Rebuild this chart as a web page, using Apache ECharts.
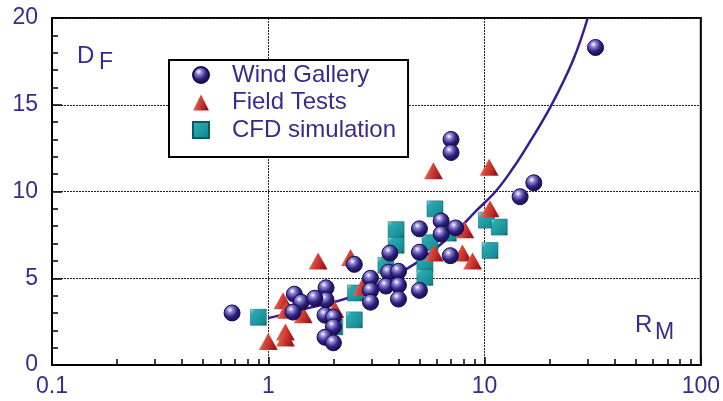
<!DOCTYPE html>
<html><head><meta charset="utf-8">
<script src="https://cdn.jsdelivr.net/npm/echarts@6/dist/echarts.min.js"></script>
<style>html,body{margin:0;padding:0;background:#fff}#c{width:723px;height:401px}</style>
</head><body><div id="c"></div>
<script>
const xTickLabels = [0.1, 1, 10, 100];
const xMinorTicks = [0.2,0.3,0.4,0.5,0.6,0.7,0.8,0.9,2,3,4,5,6,7,8,9,20,30,40,50,60,70,80,90];
const yTickLabels = [0, 5, 10, 15, 20];
const seriesNames = ['Wind Gallery', 'Field Tests', 'CFD simulation'];

const windGallery = [
  [0.68,3.0],[32.6,18.3],[7.0,13.0],[7.0,12.25],[14.6,9.7],[16.9,10.5],
  [5.0,7.85],[6.3,8.3],[6.3,7.55],[7.35,7.9],[5.0,6.5],[6.95,6.3],
  [3.65,6.45],[3.6,5.35],[4.0,5.4],[3.5,4.55],[4.0,4.6],[4.0,3.8],[5.0,4.3],
  [2.5,5.8],[2.97,5.0],[2.97,4.3],[2.97,3.62],
  [1.85,4.45],[1.85,3.75],[1.83,2.87],[2.0,2.75],[2.0,2.2],[1.83,1.6],[2.0,1.28],
  [1.32,4.08],[1.42,3.62],[1.3,3.05],[1.64,3.85]
];
const fieldTests = [
  [1.0,1.35],[1.2,1.9],[1.2,1.55],[1.17,3.7],[1.21,3.15],[1.45,2.9],[1.7,6.0],
  [2.4,6.2],[2.72,4.5],[2.03,3.2],[5.8,11.2],[10.5,11.4],[10.6,9.0],[8.1,7.8],
  [5.85,6.45],[7.9,6.45],[8.8,6.0]
];
const cfdSimulation = [
  [0.9,2.75],[2.53,4.15],[2.5,2.6],[2.03,2.2],[3.9,7.8],[3.9,6.9],[3.5,5.75],
  [5.9,9.0],[5.3,5.85],[5.3,5.05],[5.6,7.05],[6.8,7.6],[10.2,8.35],[11.7,7.95],[10.6,6.6]
];
const fitCurve = [
  [1.0,2.7],[1.53,3.28],[2.45,3.97],[4.72,5.8],[7.44,7.76],[9.19,8.91],[11.35,10.06],
  [13.6,11.38],[15.6,12.53],[20.3,14.94],[25.6,17.53],[30.0,20.0]
];

const INK = '#3b2a8c';
const chart = echarts.init(document.getElementById('c'));
const gridCfg = {left: 52, right: 17, top: 18, bottom: 36, show: true, borderColor: '#000', borderWidth: 2};

const circleColor = {type:'radial', x:0.38, y:0.32, r:0.7, colorStops:[
  {offset:0, color:'#ffffff'},{offset:0.25, color:'#8a7fd0'},{offset:0.6, color:'#2f2180'},{offset:1, color:'#140a4a'}]};
const triColor = {type:'linear', x:0, y:0, x2:1, y2:0.3, colorStops:[
  {offset:0, color:'#f6b0a0'},{offset:0.45, color:'#d9483c'},{offset:1, color:'#a3141a'}]};
const sqColor = {type:'linear', x:0, y:0, x2:1, y2:1, colorStops:[
  {offset:0, color:'#b5eef0'},{offset:0.2, color:'#2aa9b0'},{offset:0.8, color:'#158e96'},{offset:1, color:'#0b5e66'}]};

chart.setOption({
  animation: false,
  grid: gridCfg,
  xAxis: [{
    type: 'log', logBase: 10, min: 0.1, max: 100,
    axisLine: {lineStyle: {color: '#000', width: 2}},
    axisTick: {inside: true, length: 8, lineStyle: {color: '#000', width: 1.5}},
    axisLabel: {color: INK, fontSize: 23, fontFamily: 'Liberation Sans, Arial', margin: 10,
      formatter: v => String(v)},
    splitLine: {show: true, lineStyle: {color: '#222', type: [2,1], width: 1}}
  },{
    type: 'log', logBase: 10, min: 0.1, max: 100, position: 'bottom',
    axisLine: {show: false},
    axisTick: {inside: true, length: 6, customValues: xMinorTicks, lineStyle: {color: '#000', width: 1.5}},
    axisLabel: {show: false},
    splitLine: {show: false}
  }],
  yAxis: {
    type: 'value', min: 0, max: 20, interval: 5,
    axisLine: {show: true, lineStyle: {color: '#000', width: 2}},
    axisTick: {show: true, inside: true, length: 10, lineStyle: {color: '#000', width: 1.5}},
    minorTick: {show: true, splitNumber: 5, length: 6, lineStyle: {color: '#000', width: 1.5}},
    axisLabel: {color: INK, fontSize: 23, fontFamily: 'Liberation Sans, Arial', margin: 14},
    splitLine: {show: true, lineStyle: {color: '#222', type: [2,1], width: 1}}
  },
  legend: {
    data: seriesNames,
    orient: 'vertical', left: 169, top: 60,
    padding: [3, 12, 15, 23],
    itemWidth: 16, itemHeight: 16, itemGap: 3.5,
    borderColor: '#000', borderWidth: 2, backgroundColor: '#fff',
    textStyle: {color: INK, fontSize: 24, lineHeight: 24, fontFamily: 'Liberation Sans, Arial', padding: [0,0,0,18]}
  },
  graphic: [
    {type: 'text', left: 77, top: 44, style: {text: 'D', fill: INK, font: '24px Liberation Sans, Arial'}},
    {type: 'text', left: 99, top: 51, style: {text: 'F', fill: INK, font: '23px Liberation Sans, Arial'}},
    {type: 'text', left: 635, top: 313, style: {text: 'R', fill: INK, font: '24px Liberation Sans, Arial'}},
    {type: 'text', left: 655, top: 321, style: {text: 'M', fill: INK, font: '23px Liberation Sans, Arial'}}
  ],
  series: [
    {type: 'line', data: fitCurve, smooth: 0.4, showSymbol: false, symbol: 'none', silent: true,
     lineStyle: {color: '#3a1c92', width: 2.5}, z: 2, clip: true},
    {name: seriesNames[2], type: 'scatter', data: cfdSimulation, symbol: 'rect', symbolSize: 16,
     itemStyle: {color: sqColor, borderColor: '#0a5a60', borderWidth: 0.5, opacity: 1}, z: 3},
    {name: seriesNames[1], type: 'scatter', data: fieldTests, symbol: 'triangle', symbolSize: [19, 17],
     itemStyle: {color: triColor, opacity: 1}, z: 4},
    {name: seriesNames[0], type: 'scatter', data: windGallery, symbol: 'circle', symbolSize: 16,
     itemStyle: {color: circleColor, borderColor: '#140a4a', borderWidth: 1, opacity: 1}, z: 5}
  ]
});
</script></body></html>
